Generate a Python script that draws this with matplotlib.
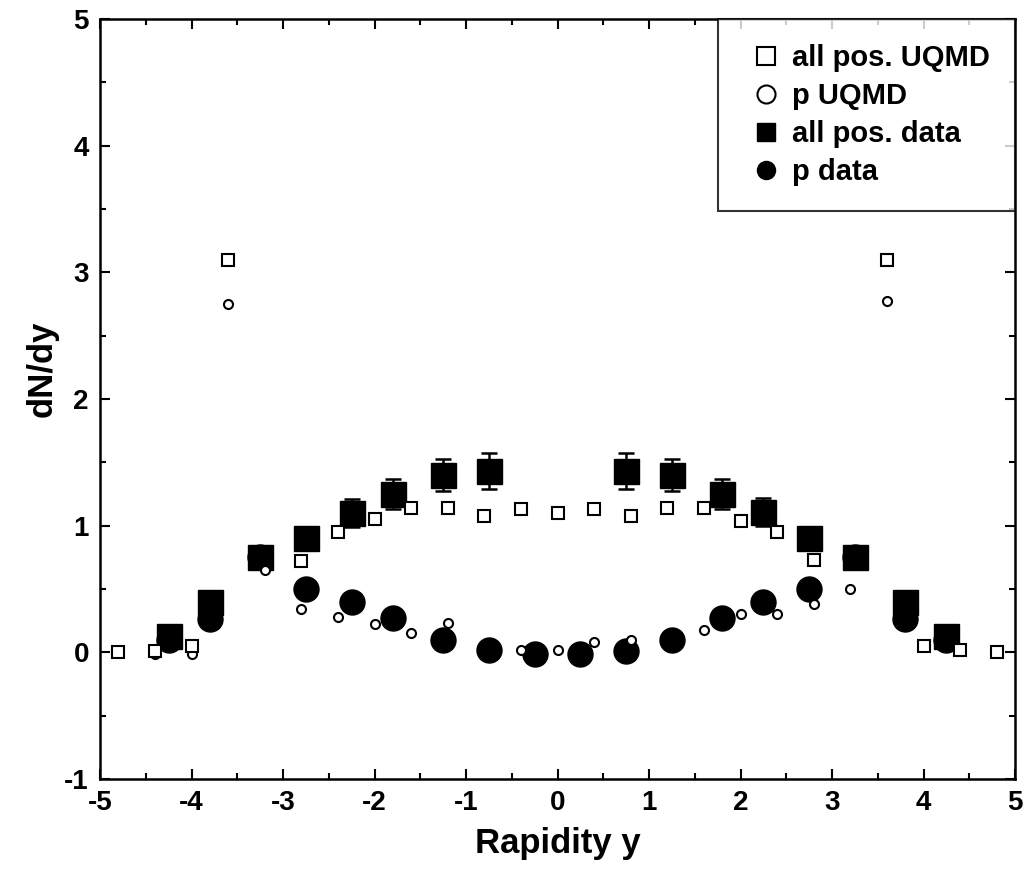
import matplotlib.pyplot as plt
from matplotlib.lines import Line2D
from matplotlib.ticker import MultipleLocator

plt.rcParams['font.family'] = ['Liberation Sans', 'DejaVu Sans']
plt.rcParams['font.weight'] = 'bold'
plt.rcParams['axes.unicode_minus'] = False

# UQMD model points (only the visible ones)
y_allpos_uqmd = [-4.8, -4.4, -4.0, -3.6, -2.8, -2.4, -2.0, -1.6, -1.2, -0.8, -0.4, 0.0,
                 0.4, 0.8, 1.2, 1.6, 2.0, 2.4, 2.8, 3.6, 4.0, 4.4, 4.8]
allpos_uqmd = [0.0, 0.01, 0.05, 3.10, 0.72, 0.95, 1.05, 1.14, 1.14, 1.08, 1.13, 1.10,
               1.13, 1.08, 1.14, 1.14, 1.04, 0.95, 0.73, 3.10, 0.05, 0.02, 0.0]
y_p_uqmd = [-4.8, -4.4, -4.0, -3.6, -3.2, -2.8, -2.4, -2.0, -1.6, -1.2, -0.4, 0.0,
            0.4, 0.8, 1.6, 2.0, 2.4, 2.8, 3.2, 3.6]
p_uqmd = [0.0, -0.01, -0.01, 2.75, 0.65, 0.34, 0.28, 0.22, 0.15, 0.23, 0.02, 0.02,
          0.08, 0.10, 0.18, 0.30, 0.30, 0.38, 0.50, 2.77]

# measured points
y_allpos = [-4.25, -3.8, -3.25, -2.75, -2.25, -1.8, -1.25, -0.75,
            0.75, 1.25, 1.8, 2.25, 2.75, 3.25, 3.8, 4.25]
allpos_data = [0.13, 0.40, 0.75, 0.90, 1.10, 1.25, 1.40, 1.43,
               1.43, 1.40, 1.25, 1.11, 0.90, 0.75, 0.40, 0.13]
allpos_err = [0.03, 0.05, 0.06, 0.08, 0.11, 0.12, 0.13, 0.14,
              0.14, 0.13, 0.12, 0.11, 0.08, 0.06, 0.05, 0.03]
y_p = [-4.25, -3.8, -3.25, -2.75, -2.25, -1.8, -1.25, -0.75, -0.25,
       0.25, 0.75, 1.25, 1.8, 2.25, 2.75, 3.25, 3.8, 4.25]
p_data = [0.10, 0.26, 0.75, 0.50, 0.40, 0.27, 0.10, 0.02, -0.01,
          -0.01, 0.01, 0.10, 0.27, 0.40, 0.50, 0.75, 0.26, 0.10]

labels = ["all pos. UQMD", "p UQMD", "all pos. data", "p data"]

fig = plt.figure(figsize=(10.29, 8.74), dpi=100)
ax = fig.add_axes([0.0972, 0.1087, 0.8892, 0.8696])

ax.errorbar(y_allpos, allpos_data, yerr=allpos_err, fmt='s', color='black',
            ms=18, capsize=6, elinewidth=1.8, capthick=1.8, zorder=2)
ax.plot(y_p, p_data, 'o', color='black', ms=18, zorder=3)
ax.plot(y_p_uqmd, p_uqmd, 'o', mfc='white', mec='black', mew=1.5, ms=6.5, zorder=4)
ax.plot(y_allpos_uqmd, allpos_uqmd, 's', mfc='white', mec='black', mew=1.5, ms=9, zorder=5)

ax.set_xlim(-5, 5)
ax.set_ylim(-1, 5)
ax.xaxis.set_major_locator(MultipleLocator(1))
ax.xaxis.set_minor_locator(MultipleLocator(0.5))
ax.yaxis.set_major_locator(MultipleLocator(1))
ax.yaxis.set_minor_locator(MultipleLocator(0.5))
ax.tick_params(which='both', direction='in', top=True, right=True, width=1.5, labelsize=20)
ax.tick_params(which='major', length=7, pad=8)
ax.tick_params(which='minor', length=4)
for s in ax.spines.values():
    s.set_linewidth(1.8)

ax.set_xlabel("Rapidity y", fontsize=25, fontweight='bold', labelpad=8)
ax.set_ylabel("dN/dy", fontsize=25, fontweight='bold')
ax.yaxis.set_label_coords(-0.045, 0.54)

handles = [
    Line2D([], [], ls='none', marker='s', mfc='white', mec='black', mew=1.5, ms=13),
    Line2D([], [], ls='none', marker='o', mfc='white', mec='black', mew=1.5, ms=13),
    Line2D([], [], ls='none', marker='s', color='black', ms=13),
    Line2D([], [], ls='none', marker='o', color='black', ms=13),
]
leg = ax.legend(handles, labels, loc='upper right', fontsize=21, frameon=True,
                fancybox=False, borderaxespad=0, borderpad=0.85, labelspacing=0.35,
                handlelength=1.6, handletextpad=0.1)
leg.get_frame().set_edgecolor('black')
leg.get_frame().set_linewidth(1.5)

fig.savefig("out.png", dpi=100)
